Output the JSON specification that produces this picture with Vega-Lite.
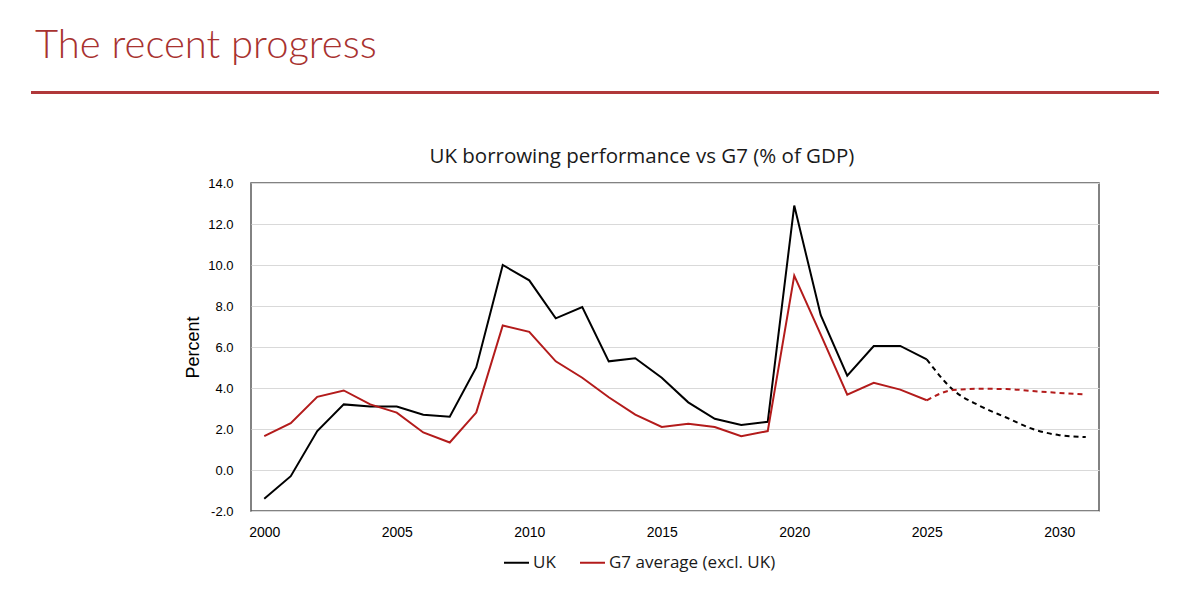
{
  "$schema": "https://vega.github.io/schema/vega-lite/v6.json",
  "background": "white",
  "padding": {"left": 29, "top": 26, "right": 0, "bottom": 30},
  "title": {
    "text": "The recent progress",
    "anchor": "start",
    "frame": "group",
    "font": "Lato",
    "fontSize": 40,
    "fontWeight": 300,
    "color": "#a8322f",
    "offset": 25,
    "dx": 4
  },
  "config": {
    "view": {"stroke": null},
    "axis": {"labelFont": "Liberation Sans", "labelFontSize": 13, "labelColor": "#000"}
  },
  "spacing": 51,
  "vconcat": [
    {
      "width": 1128,
      "height": 3,
      "data": {"values": [{}]},
      "mark": {"type": "rule", "color": "#b0383a", "strokeWidth": 3},
      "encoding": {
        "x": {"datum": 0, "type": "quantitative", "scale": {"domain": [0, 1]}, "axis": null},
        "x2": {"datum": 1},
        "y": {"datum": 0.5, "type": "quantitative", "scale": {"domain": [0, 1]}, "axis": null}
      }
    },
    {
      "spacing": 10,
      "hconcat": [
        {
          "width": 142,
          "height": 1,
          "data": {"values": [{}]},
          "mark": {"type": "rule", "opacity": 0},
          "encoding": {}
        },
        {
          "width": 848,
          "height": 328,
          "view": {"stroke": "#595959", "strokeWidth": 1.5},
          "title": {
            "text": "UK borrowing performance vs G7 (% of GDP)",
            "frame": "bounds",
            "font": "Open Sans",
            "fontSize": 20.5,
            "fontWeight": "normal",
            "color": "#1a1a1a",
            "offset": 10
          },
          "data": {
            "values": [
              {"year": 2000, "series": "UK", "segment": "actual", "value": -1.4},
              {"year": 2001, "series": "UK", "segment": "actual", "value": -0.3},
              {"year": 2002, "series": "UK", "segment": "actual", "value": 1.9},
              {"year": 2003, "series": "UK", "segment": "actual", "value": 3.2},
              {"year": 2004, "series": "UK", "segment": "actual", "value": 3.1},
              {"year": 2005, "series": "UK", "segment": "actual", "value": 3.1},
              {"year": 2006, "series": "UK", "segment": "actual", "value": 2.7},
              {"year": 2007, "series": "UK", "segment": "actual", "value": 2.6},
              {"year": 2008, "series": "UK", "segment": "actual", "value": 5.0},
              {"year": 2009, "series": "UK", "segment": "actual", "value": 10.0},
              {"year": 2010, "series": "UK", "segment": "actual", "value": 9.25},
              {"year": 2011, "series": "UK", "segment": "actual", "value": 7.4},
              {"year": 2012, "series": "UK", "segment": "actual", "value": 7.95},
              {"year": 2013, "series": "UK", "segment": "actual", "value": 5.3},
              {"year": 2014, "series": "UK", "segment": "actual", "value": 5.45},
              {"year": 2015, "series": "UK", "segment": "actual", "value": 4.5},
              {"year": 2016, "series": "UK", "segment": "actual", "value": 3.3},
              {"year": 2017, "series": "UK", "segment": "actual", "value": 2.5},
              {"year": 2018, "series": "UK", "segment": "actual", "value": 2.2},
              {"year": 2019, "series": "UK", "segment": "actual", "value": 2.35},
              {"year": 2020, "series": "UK", "segment": "actual", "value": 12.9},
              {"year": 2021, "series": "UK", "segment": "actual", "value": 7.55},
              {"year": 2022, "series": "UK", "segment": "actual", "value": 4.6},
              {"year": 2023, "series": "UK", "segment": "actual", "value": 6.05},
              {"year": 2024, "series": "UK", "segment": "actual", "value": 6.05},
              {"year": 2025, "series": "UK", "segment": "actual", "value": 5.4},
              {"year": 2025, "series": "UK", "segment": "forecast", "value": 5.4},
              {"year": 2026, "series": "UK", "segment": "forecast", "value": 3.9},
              {"year": 2027, "series": "UK", "segment": "forecast", "value": 3.13},
              {"year": 2028, "series": "UK", "segment": "forecast", "value": 2.56},
              {"year": 2029, "series": "UK", "segment": "forecast", "value": 2.0},
              {"year": 2030, "series": "UK", "segment": "forecast", "value": 1.7},
              {"year": 2031, "series": "UK", "segment": "forecast", "value": 1.61},
              {"year": 2000, "series": "G7 average (excl. UK)", "segment": "actual", "value": 1.65},
              {"year": 2001, "series": "G7 average (excl. UK)", "segment": "actual", "value": 2.28},
              {"year": 2002, "series": "G7 average (excl. UK)", "segment": "actual", "value": 3.57},
              {"year": 2003, "series": "G7 average (excl. UK)", "segment": "actual", "value": 3.88},
              {"year": 2004, "series": "G7 average (excl. UK)", "segment": "actual", "value": 3.2},
              {"year": 2005, "series": "G7 average (excl. UK)", "segment": "actual", "value": 2.8},
              {"year": 2006, "series": "G7 average (excl. UK)", "segment": "actual", "value": 1.83},
              {"year": 2007, "series": "G7 average (excl. UK)", "segment": "actual", "value": 1.34},
              {"year": 2008, "series": "G7 average (excl. UK)", "segment": "actual", "value": 2.8},
              {"year": 2009, "series": "G7 average (excl. UK)", "segment": "actual", "value": 7.05},
              {"year": 2010, "series": "G7 average (excl. UK)", "segment": "actual", "value": 6.74},
              {"year": 2011, "series": "G7 average (excl. UK)", "segment": "actual", "value": 5.3},
              {"year": 2012, "series": "G7 average (excl. UK)", "segment": "actual", "value": 4.5},
              {"year": 2013, "series": "G7 average (excl. UK)", "segment": "actual", "value": 3.55},
              {"year": 2014, "series": "G7 average (excl. UK)", "segment": "actual", "value": 2.7},
              {"year": 2015, "series": "G7 average (excl. UK)", "segment": "actual", "value": 2.1},
              {"year": 2016, "series": "G7 average (excl. UK)", "segment": "actual", "value": 2.25},
              {"year": 2017, "series": "G7 average (excl. UK)", "segment": "actual", "value": 2.1},
              {"year": 2018, "series": "G7 average (excl. UK)", "segment": "actual", "value": 1.65},
              {"year": 2019, "series": "G7 average (excl. UK)", "segment": "actual", "value": 1.9},
              {"year": 2020, "series": "G7 average (excl. UK)", "segment": "actual", "value": 9.48},
              {"year": 2021, "series": "G7 average (excl. UK)", "segment": "actual", "value": 6.6},
              {"year": 2022, "series": "G7 average (excl. UK)", "segment": "actual", "value": 3.67},
              {"year": 2023, "series": "G7 average (excl. UK)", "segment": "actual", "value": 4.25},
              {"year": 2024, "series": "G7 average (excl. UK)", "segment": "actual", "value": 3.92},
              {"year": 2025, "series": "G7 average (excl. UK)", "segment": "actual", "value": 3.4},
              {"year": 2025, "series": "G7 average (excl. UK)", "segment": "forecast", "value": 3.4},
              {"year": 2026, "series": "G7 average (excl. UK)", "segment": "forecast", "value": 3.9},
              {"year": 2027, "series": "G7 average (excl. UK)", "segment": "forecast", "value": 3.96},
              {"year": 2028, "series": "G7 average (excl. UK)", "segment": "forecast", "value": 3.95},
              {"year": 2029, "series": "G7 average (excl. UK)", "segment": "forecast", "value": 3.85},
              {"year": 2030, "series": "G7 average (excl. UK)", "segment": "forecast", "value": 3.76},
              {"year": 2031, "series": "G7 average (excl. UK)", "segment": "forecast", "value": 3.68}
            ]
          },
          "encoding": {
            "x": {
              "field": "year",
              "type": "quantitative",
              "scale": {"domain": [1999.5, 2031.5], "nice": false, "zero": false},
              "axis": {
                "title": null,
                "values": [2000, 2005, 2010, 2015, 2020, 2025, 2030],
                "format": "d",
                "ticks": false,
                "domain": false,
                "grid": false,
                "labelFontSize": 14,
                "labelPadding": 14
              }
            },
            "y": {
              "field": "value",
              "type": "quantitative",
              "scale": {"domain": [-2, 14], "nice": false},
              "axis": {
                "title": "Percent",
                "titleFont": "Liberation Sans",
                "titleFontSize": 18,
                "titleFontWeight": "normal",
                "titleColor": "#000",
                "titlePadding": 5,
                "values": [-2, 0, 2, 4, 6, 8, 10, 12, 14],
                "format": ".1f",
                "labelExpr": "replace(datum.label, '\u2212', '-')",
                "ticks": false,
                "domain": false,
                "gridColor": "#d9d9d9",
                "labelPadding": 18
              }
            },
            "color": {
              "field": "series",
              "type": "nominal",
              "sort": ["UK", "G7 average (excl. UK)"],
              "scale": {"domain": ["UK", "G7 average (excl. UK)"], "range": ["#000000", "#b31b1b"]},
              "legend": {
                "title": null,
                "orient": "none",
                "legendX": 472,
                "legendY": 458,
                "direction": "horizontal",
                "symbolType": "stroke",
                "symbolSize": 625,
                "symbolStrokeWidth": 2,
                "labelFont": "Open Sans",
                "labelFontSize": 17,
                "labelColor": "#1a1a1a",
                "labelOffset": 3,
                "labelLimit": 300,
                "columnPadding": 20
              }
            }
          },
          "layer": [
            {
              "transform": [{"filter": "datum.segment === 'actual'"}],
              "mark": {"type": "line", "strokeWidth": 2}
            },
            {
              "transform": [{"filter": "datum.segment === 'forecast'"}],
              "mark": {"type": "line", "strokeWidth": 2, "interpolate": "monotone", "strokeDash": [5, 4]}
            }
          ]
        }
      ]
    }
  ]
}
